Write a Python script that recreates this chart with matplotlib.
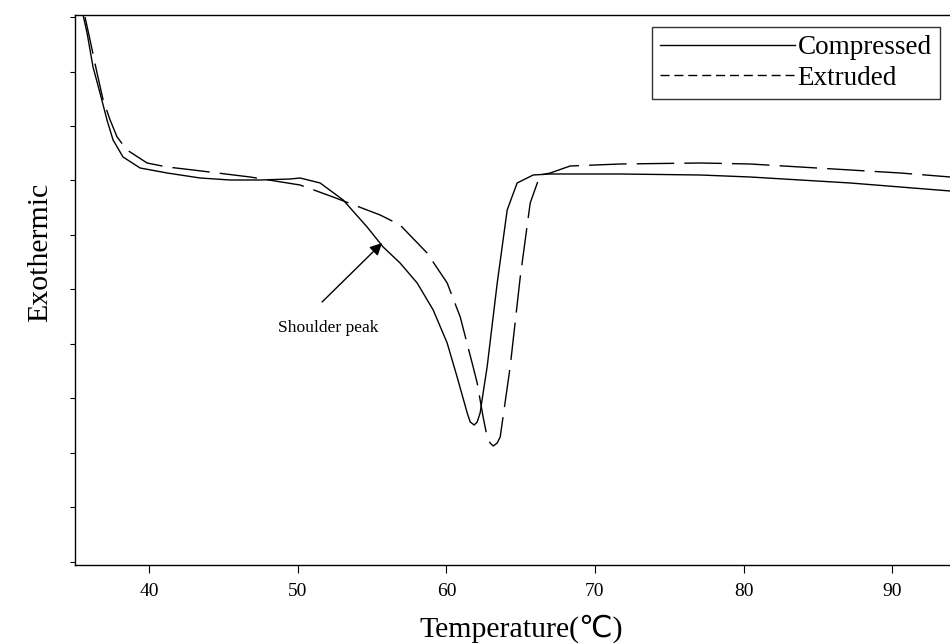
import matplotlib
matplotlib.use("Agg")
import matplotlib.pyplot as plt
from matplotlib.lines import Line2D

plt.rcParams['font.family'] = ['Liberation Serif', 'DejaVu Sans']

# Compressed sample (solid)
comp_T = [35.54, 35.81, 36.21, 36.68, 37.15, 37.56, 38.23, 39.38, 41.20, 43.42,
          45.44, 47.46, 49.48, 50.15, 51.50, 53.05, 54.66, 55.74, 56.88, 58.03,
          59.11, 60.05, 60.72, 61.40, 61.60, 61.87, 62.07, 62.27, 62.47, 62.74,
          63.42, 64.09, 64.76, 65.84, 66.99, 68.33, 71.70, 77.09, 80.45, 83.82,
          87.19, 90.56, 93.92]
comp_S = [550, 532, 498, 472, 445, 425, 408, 397, 392, 387,
          385, 385, 386, 387, 382, 365, 338, 318, 302, 282,
          255, 222, 188, 152, 143, 140, 143, 152, 172, 198,
          282, 355, 382, 390, 391, 391, 391, 390, 388, 385,
          382, 378, 374]

# Extruded sample (dashed)
extr_T = [35.67, 36.01, 36.48, 36.89, 37.36, 37.83, 38.50, 39.85, 41.20, 42.95,
          46.78, 50.15, 52.37, 55.54, 56.88, 58.70, 60.05, 60.93, 61.80, 62.07,
          62.47, 62.74, 62.94, 63.15, 63.42, 63.62, 64.29, 64.97, 65.64, 66.31,
          66.99, 68.33, 71.70, 77.09, 80.45, 83.82, 87.19, 90.56, 93.92]
extr_S = [548, 525, 492, 465, 445, 428, 415, 402, 398, 395,
          388, 380, 368, 350, 340, 312, 282, 248, 198, 182,
          148, 128, 122, 119, 122, 128, 198, 288, 362, 390,
          392, 399, 401, 402, 401, 398, 395, 392, 388]

x_ticks = [40, 50, 60, 70, 80, 90]
series_names = ["Compressed", "Extruded"]

fig = plt.figure(figsize=(9.5, 6.44), dpi=100)
ax = fig.add_axes([0.079, 0.1227, 0.921, 0.854])

ax.plot(comp_T, comp_S, color='black', lw=1.0, solid_joinstyle='round')
ax.plot(extr_T, extr_S, color='black', lw=1.0, dashes=(27, 7.3))

ax.set_xlim(35.0, 93.9)
ax.set_ylim(0, 550)
ax.set_xticks(x_ticks)
ax.set_xticklabels([str(t) for t in x_ticks], fontsize=14)
yt = [3 + i * 54.5 for i in range(11)]
ax.set_yticks(yt)
ax.set_yticklabels([])
ax.tick_params(axis='x', direction='out', length=6, width=0.8, pad=7)
ax.tick_params(axis='y', direction='out', length=3.6, width=0.8)
ax.spines['right'].set_visible(False)
for s in ['left', 'bottom', 'top']:
    ax.spines[s].set_linewidth(1.0)

ax.set_xlabel('Temperature(\u2103)', fontsize=21.5, va='baseline')
ax.xaxis.set_label_coords(0.51, -0.1295)
fig.text(40 / 950, 1 - 252 / 644, 'Exothermic', rotation=90,
         fontsize=21.5, ha='center', va='center')

ax.annotate('', xy=(55.67, 322), xytext=(51.63, 263),
            arrowprops=dict(arrowstyle='-|>', color='black', lw=1.0,
                            mutation_scale=18, shrinkA=0, shrinkB=0))
ax.text(52.04, 233, 'Shoulder peak', fontsize=12.6, ha='center', va='baseline')

handles = [Line2D([], [], color='black', lw=1.0),
           Line2D([], [], color='black', lw=1.0, dashes=(6.5, 3.5))]
leg = ax.legend(handles, series_names, loc='upper right',
                bbox_to_anchor=(0.9886, 0.978), fontsize=19.5, handlelength=5.0,
                handletextpad=0.1, borderpad=0.3, labelspacing=0.2,
                borderaxespad=0.0, frameon=True, fancybox=False,
                edgecolor='black')
leg.get_frame().set_linewidth(1.0)

fig.savefig('out.png', dpi=100)
